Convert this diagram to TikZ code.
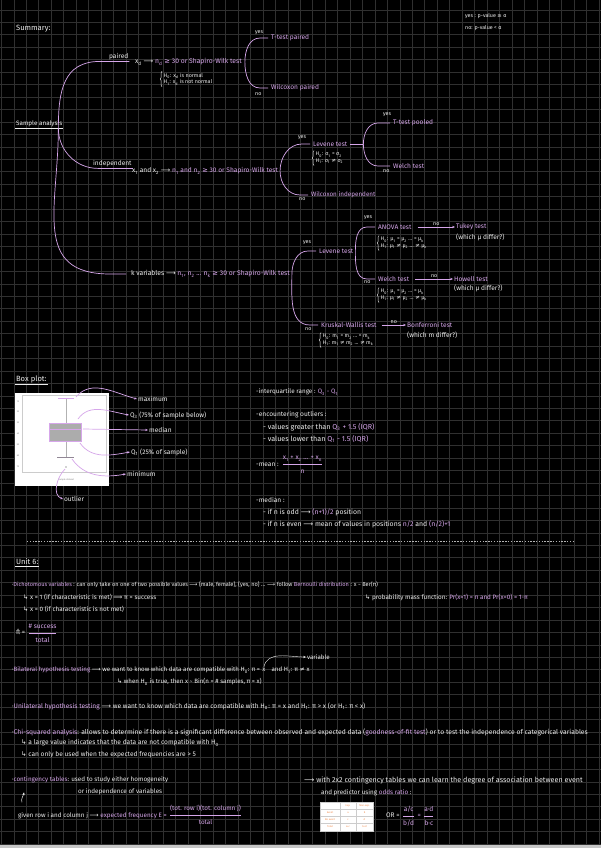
\documentclass[tikz,border=0pt]{standalone}
\usepackage{amsmath}
\usepackage{fontspec}
\setmainfont{Fira Sans}
\newfontfamily\symfont{DejaVu Sans}
\usetikzlibrary{arrows.meta,calc,decorations.pathreplacing}
\definecolor{Ink}{HTML}{EDEDED}
\definecolor{Lilac}{HTML}{D6A6EA}
\definecolor{GridGray}{HTML}{303030}
\definecolor{Tangerine}{HTML}{F08A4B}
\newcommand{\lto}{{\symfont ⟶}}
\newcommand{\Lto}{{\symfont ⟹}}
\newcommand{\hk}{{\symfont ↳}}
\newcommand{\sge}{{\symfont ≥}}
\newcommand{\sne}{{\symfont ≠}}
\newcommand{\lil}[1]{\textcolor{Lilac}{#1}}
\newcommand{\sbs}[1]{\textsubscript{#1}}
\newcommand{\fsz}[1]{\fontsize{#1}{#1}\selectfont}
\tikzset{
  note/.style={text=Ink,inner sep=0.6pt,anchor=west,font=\fsz{4.7}},
  tiny/.style={note,font=\fsz{3.8}},
  head/.style={note,font=\fsz{5.4}},
  lil/.style={note,text=Lilac},
  hyp/.style={note,align=left,inner sep=1pt,font=\fontsize{3.8}{4.7}\selectfont},
  branch/.style={draw=Lilac,line width=0.5pt},
  brc/.style={draw=Ink,line width=0.3pt,decorate,decoration={brace,amplitude=1.2pt}},
  tip/.style={-{Stealth[length=2pt,width=1.6pt]}}
}
\begin{document}
\begin{tikzpicture}[x=0.025cm,y=-0.025cm]
  \useasboundingbox (0,0) rectangle (601,848);
  \fill[black] (0,0) rectangle (601,848);
  \foreach \i in {0,...,48} \draw[GridGray,line width=0.5pt] ({1.5+12.45*\i},0) -- ({1.5+12.45*\i},848);
  \foreach \j in {0,...,68} \draw[GridGray,line width=0.5pt] (0,{-2.5+12.45*\j}) -- (601,{-2.5+12.45*\j});

  \node[head] (summary) at (15,29) {Summary:};
  \node[tiny] (keyyes) at (464,16) {yes : p-value \sge{} α};
  \node[tiny] (keyno) at (464,28) {no: p-value < α};

  \node[note,font=\fsz{4.5}] (sa) at (15,124) {Sample analysis};
  \draw[Ink,line width=0.4pt] (sa.south west) -- (sa.south east);
  \coordinate (root) at ($(sa.south east)+(-5,0)$);

  \node[note] (paired) at (108,57) {paired};
  \draw[branch] (root) to[out=90,in=180,looseness=1.2] ($(paired.south west)+(-8,0)$) -- (paired.south east);
  \node[note,font=\fsz{4.8}] (xd) at (134,62) {x\sbs{d} \lto{} \lil{n\sbs{d} \sge{} 30 or Shapiro-Wilk test}};
  \node[hyp] (hpair) at (162,79) {H\sbs{0}: x\sbs{d} is normal\\H\sbs{1}: x\sbs{d} is not normal};
  \draw[brc] (hpair.south west) -- (hpair.north west);
  \node[tiny] (yes1) at (254,33) {yes};
  \node[lil] (tpair) at (270,38) {T-test paired};
  \node[tiny] (no1) at (254,94) {no};
  \node[lil] (wpair) at (270,88) {Wilcoxon paired};
  \draw[branch] ($(tpair.west)+(-2,0)$) -- ++(-8,0) to[out=180,in=90] ($(xd.east)+(2,0)$) to[out=-90,in=180] ($(wpair.west)+(-10,0)$) -- ($(wpair.west)+(-2,0)$);

  \node[note] (indep) at (92,164) {independent};
  \draw[branch] (root) to[out=-90,in=180] ($(indep.south west)+(6,0)$) -- (indep.south east);
  \node[note] (xind) at (131,171) {x\sbs{1} and x\sbs{2} \lto{} \lil{n\sbs{1} and n\sbs{2} \sge{} 30 or Shapiro-Wilk test}};
  \node[tiny] (yes2) at (297,138) {yes};
  \node[lil] (lev) at (312,144) {Levene test};
  \node[hyp] (hsig) at (314,158) {H\sbs{0}: σ\sbs{1} = σ\sbs{2}\\H\sbs{1}: σ\sbs{1} \sne{} σ\sbs{2}};
  \draw[brc] (hsig.south west) -- (hsig.north west);
  \node[tiny] (no2) at (298,199) {no};
  \node[lil,font=\fsz{4.5}] (wind) at (310,195) {Wilcoxon independent};
  \draw[branch] ($(lev.west)+(-2,0)$) -- ++(-8,0) to[out=180,in=90] ($(xind.east)+(1,0)$) to[out=-90,in=180] ($(wind.west)+(-10,0)$) -- ($(wind.west)+(-2,0)$);
  \coordinate (levsplit) at ($(lev.east)+(15,0)$);
  \node[tiny] (yes3) at (382,115) {yes};
  \node[lil] (tpool) at (392,123) {T-test pooled};
  \node[tiny] (no3) at (382,171) {no};
  \node[lil] (welch) at (392,166) {Welch test};
  \draw[branch] ($(lev.east)+(2,0)$) -- (levsplit);
  \draw[branch] ($(tpool.west)+(-2,0)$) -- ++(-12,0) to[out=180,in=90] (levsplit) to[out=-90,in=180] ($(welch.west)+(-14,0)$) -- ($(welch.west)+(-2,0)$);

  \node[note,font=\fsz{4.8}] (kvar) at (130,274) {k variables \lto{} \lil{n\sbs{1}, n\sbs{2} ... n\sbs{k} \sge{} 30 or Shapiro-Wilk test}};
  \draw[branch] (root) to[out=-90,in=180,looseness=1.3] ($(kvar.west)+(-20,0)$) -- ($(kvar.west)+(-4,0)$);
  \node[tiny] (yes4) at (302,243) {yes};
  \node[lil] (lev2) at (318,251) {Levene test};
  \node[tiny] (no4) at (304,329) {no};
  \node[lil] (kw) at (320,325) {Kruskal-Wallis test};
  \draw[branch] ($(lev2.west)+(-2,0)$) -- ++(-8,0) to[out=180,in=90] ($(kvar.east)+(1,0)$) to[out=-90,in=180] ($(kw.west)+(-10,0)$) -- ($(kw.west)+(-2,0)$);
  \node[tiny] (yes5) at (363,218) {yes};
  \node[lil] (anova) at (377,227) {ANOVA test};
  \node[tiny] (no5) at (363,282) {no};
  \node[lil] (welch2) at (377,279) {Welch test};
  \draw[branch] ($(anova.west)+(-2,0)$) -- ++(-8,0) to[out=180,in=90] ($(lev2.east)+(1,0)$) to[out=-90,in=180] ($(welch2.west)+(-10,0)$) -- ($(welch2.west)+(-2,0)$);
  \node[hyp] (hmu1) at (379,243) {H\sbs{0}: μ\sbs{1} = μ\sbs{2} ... = μ\sbs{k}\\H\sbs{1}: μ\sbs{1} \sne{} μ\sbs{2} ... \sne{} μ\sbs{k}};
  \draw[brc] (hmu1.south west) -- (hmu1.north west);
  \node[hyp] (hmu2) at (379,295) {H\sbs{0}: μ\sbs{1} = μ\sbs{2} ... = μ\sbs{k}\\H\sbs{1}: μ\sbs{1} \sne{} μ\sbs{2} ... \sne{} μ\sbs{k}};
  \draw[brc] (hmu2.south west) -- (hmu2.north west);
  \node[hyp] (hm) at (321,340) {H\sbs{0}: m\sbs{1} = m\sbs{2} ... = m\sbs{k}\\H\sbs{1}: m\sbs{1} \sne{} m\sbs{2} ... \sne{} m\sbs{k}};
  \draw[brc] (hm.south west) -- (hm.north west);
  \node[lil] (tukey) at (455,227) {Tukey test};
  \node[note] (tukeyq) at (455,237) {(which μ differ?)};
  \node[lil] (howell) at (453,279) {Howell test};
  \node[note] (howellq) at (453,288) {(which μ differ?)};
  \node[lil] (bonf) at (406,325) {Bonferroni test};
  \node[note] (bonfq) at (406,335) {(which m differ?)};
  \draw[branch,tip] ($(anova.east)+(5,0)$) -- (tukey.west) node[tiny,midway,above] {no};
  \draw[branch,tip] ($(welch2.east)+(5,0)$) -- (howell.west) node[tiny,midway,above] {no};
  \draw[branch,tip] ($(kw.east)+(4,0)$) -- (bonf.west) node[tiny,midway,above] {no};

  \node[head] (boxplot) at (15,379) {Box plot:};
  \draw[Ink,line width=0.4pt] (boxplot.south west) -- (boxplot.south east);
  \fill[white] (15,393) rectangle (109,486);
  \draw[gray!40,line width=0.3pt] (22,395) rectangle (106,472);
  \foreach \t [count=\k] in {402,412,423,434,445,456,467}
    \node[text=gray,inner sep=0pt,font=\fontsize{1.6}{2}\selectfont] at (18,\t) {\k0};
  \node[text=gray,inner sep=0pt,font=\fontsize{1.6}{2}\selectfont] (xlab) at (66,480) {Sample dataset};
  \draw[gray!60,line width=0.3pt] (66,398) -- (66,423) (66,441) -- (66,457);
  \filldraw[fill=gray!65,draw=Lilac,line width=0.5pt] (49,423) rectangle (81,441);
  \draw[Lilac,line width=0.6pt] (49,429) -- (81,429);
  \draw[Lilac,line width=0.6pt] (58,398) -- (74,398);
  \draw[gray!80!Lilac,line width=0.6pt] (57,457) -- (74,457);
  \fill[gray!70] (66,467) circle (0.6pt);
  \coordinate (capT) at (76,397);
  \coordinate (boxT) at (78,419);
  \coordinate (med) at (83,429);
  \coordinate (boxB) at (80,443);
  \coordinate (capB) at (72,459);
  \coordinate (outl) at (65,469);
  \node[note] (lmax) at (137,399) {maximum};
  \node[note] (lq3) at (129,415) {Q\sbs{3} (75\% of sample below)};
  \node[note] (lmed) at (148,430) {median};
  \node[note] (lq1) at (130,452) {Q\sbs{1} (25\% of sample)};
  \node[note] (lmin) at (126,474) {minimum};
  \node[note] (lout) at (63,499) {outlier};
  \draw[branch,tip] (capT) to[out=50,in=165] (lmax.west);
  \draw[branch,tip] (boxT) to[out=55,in=170] (lq3.west);
  \draw[branch,tip] (med) -- (lmed.west);
  \draw[branch,tip] (boxB) to[out=-55,in=190] (lq1.west);
  \draw[branch,tip] (capB) to[out=-55,in=190] (lmin.west);
  \draw[branch,tip] (outl) to[out=225,in=160] (lout.west);

  \node[note,font=\fsz{4.5}] (iqr) at (255,392) {-interquartile range : \lil{Q\sbs{3} - Q\sbs{1}}};
  \node[note] (outh) at (255,415) {-encountering outliers :};
  \node[note,font=\fsz{5.1}] (outa) at (262,427) {- values greater than \lil{Q\sbs{3} + 1.5 (IQR)}};
  \node[note,font=\fsz{5.1}] (outb) at (262,439) {- values lower than \lil{Q\sbs{1} - 1.5 (IQR)}};
  \node[note] (mean) at (255,465) {-mean : \lil{$\dfrac{\text{x\sbs{1} + x\sbs{2} ... + x\sbs{n}}}{\text{n}}$}};
  \node[note] (medh) at (255,500) {-median :};
  \node[note,font=\fsz{4.9}] (meda) at (262,512) {- if n is odd \lto{} \lil{(n+1)/2} position};
  \node[note,font=\fsz{4.9}] (medb) at (262,524) {- if n is even \lto{} mean of values in positions \lil{n/2} and \lil{(n/2)+1}};

  \draw[gray!60,line width=0.3pt,dash pattern=on 1pt off 1pt] (27,541) -- (574,541);

  \node[head] (unit) at (15,562) {Unit 6:};
  \draw[Ink,line width=0.4pt] (unit.south west) -- (unit.south east);
  \node[note,font=\fsz{4.0}] (dich) at (11,585) {·\lil{Dichotomous variables} : can only take on one of two possible values \lto{} \{male, female\}, \{yes, no\} ... \lto{} follow \lil{Bernoulli distribution} : x \textasciitilde{} Ber(π)};
  \node[note,font=\fsz{4.5}] (dich1) at (22,597) {\hk{} x = 1 (if characteristic is met) \Lto{} π = success};
  \node[note,font=\fsz{4.5}] (dich2) at (22,609) {\hk{} x = 0 (if characteristic is not met)};
  \node[note,font=\fsz{4.5}] (pmf) at (364,597) {\hk{} probability mass function: \lil{Pr(x=1) = π and Pr(x=0) = 1-π}};
  \node[note] (pihat) at (15,633) {{\symfont π̂} = \lil{$\dfrac{\text{\# success}}{\text{total}}$}};

  \node[note,font=\fsz{4.4}] (bilat) at (11,670) {·\lil{Bilateral hypothesis testing} \lto{} we want to know which data are compatible with H\sbs{0}: π =};
  \node[note,font=\fsz{4.4}] (bx) at (bilat.east) {x};
  \node[note,font=\fsz{4.4}] (bilat2) at ($(bx.east)+(4,0)$) {and H\sbs{1}: π \sne{} x};
  \node[note,font=\fsz{4.4}] (var) at (306,657) {variable};
  \draw[Ink,line width=0.3pt,tip] (bx.north) to[out=80,in=180] (var.west);
  \node[note,font=\fsz{4.4}] (bilat3) at (116,682) {\hk{} when H\sbs{0} is true, then x \textasciitilde{} Bin(n = \# samples, π = x)};
  \node[note] (unilat) at (11,706) {·\lil{Unilateral hypothesis testing} \lto{} we want to know which data are compatible with H\sbs{0}: π = x and H\sbs{1}: π > x (or H\sbs{1}: π < x)};
  \node[note,font=\fsz{4.8}] (chi) at (11,732) {·\lil{Chi-squared analysis}: allows to determine if there is a significant difference between observed and expected data (\lil{goodness-of-fit test}) or to test the independence of categorical variables};
  \node[note] (chi1) at (20,743) {\hk{} a large value indicates that the data are not compatible with H\sbs{0}};
  \node[note] (chi2) at (20,755) {\hk{} can only be used when the expected frequencies are > 5};

  \node[note,font=\fsz{4.5}] (cont) at (11,780) {·\lil{contingency tables}: used to study either homogeneity};
  \node[note,font=\fsz{4.5}] (cont2) at (77,792) {or independence of variables};
  \node[note,font=\fsz{4.5}] (given) at (17,815) {given row i and column j \lto{} \lil{expected frequency E = $\dfrac{\text{(tot. row i)(tot. column j)}}{\text{total}}$}};
  \coordinate (hooka) at ($(given.north west)+(5,-2)$);
  \coordinate (hookb) at ($(given.north west)+(7,-12)$);
  \draw[Ink,line width=0.35pt,tip] (hooka) to[out=110,in=-100] (hookb);
  \node[note,font=\fsz{5.1}] (or1) at (303,780) {\lto{} with 2x2 contingency tables we can learn the degree of association between event};
  \node[note,font=\fsz{4.5}] (or2) at (320,793) {and predictor using \lil{odds ratio} :};
  \fill[white] (320,802) rectangle (373,831);
  \draw[gray!40,line width=0.2pt] (320,802) rectangle (373,831) (340,802) -- (340,831) (356,802) -- (356,831)
    (320,809) -- (373,809) (320,816) -- (373,816) (320,823) -- (373,823);
  \foreach \r/\a/\b/\c [count=\k] in {{}/Exp./Non-exp., Event/a/b, No event/c/d, Total/a+c/b+d}
    \node[text=Tangerine,inner sep=0pt,font=\fontsize{1.8}{2}\selectfont] at (330,{798.5+7*\k}) {\r}
      node[text=Tangerine,inner sep=0pt,font=\fontsize{1.8}{2}\selectfont] at (348,{798.5+7*\k}) {\a}
      node[text=Tangerine,inner sep=0pt,font=\fontsize{1.8}{2}\selectfont] at (364.5,{798.5+7*\k}) {\b};
  \node[note] (oddsr) at (385,816) {OR = \lil{$\dfrac{\text{a/c}}{\text{b/d}}$ = $\dfrac{\text{a·d}}{\text{b·c}}$}};

  \fill[gray!45] (0,845) rectangle (601,848);
\end{tikzpicture}
\end{document}
